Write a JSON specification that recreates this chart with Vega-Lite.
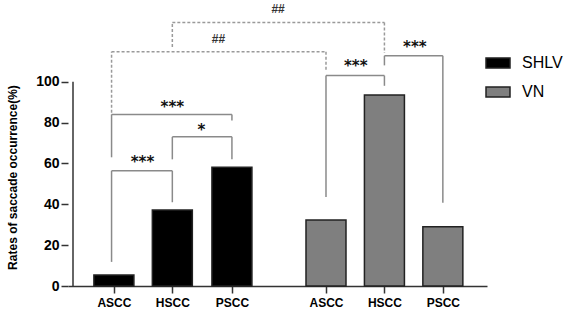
{
  "$schema": "https://vega.github.io/schema/vega-lite/v6.json",
  "width": 419,
  "height": 286,
  "autosize": "none",
  "padding": {"left": 68, "top": 0, "right": 80, "bottom": 26},
  "background": "white",
  "config": {"view": {"stroke": null}, "font": "Liberation Sans"},
  "datasets": {
    "bars": [
      {"group": "SHLV", "cond": "ASCC", "x": 1, "value": 5.4},
      {"group": "SHLV", "cond": "HSCC", "x": 2, "value": 37.2},
      {"group": "SHLV", "cond": "PSCC", "x": 3.02, "value": 58.1},
      {"group": "VN", "cond": "ASCC", "x": 4.63, "value": 32.3},
      {"group": "VN", "cond": "HSCC", "x": 5.63, "value": 93.5},
      {"group": "VN", "cond": "PSCC", "x": 6.63, "value": 29.0}
    ],
    "yaxis": [{"x": 0.3, "y": 0, "y2": 100}],
    "solid": [
      {"x": 0.96, "x2": 0.96, "y": 11.8, "y2": 56.4},
      {"x": 0.96, "x2": 2, "y": 56.4, "y2": 56.4},
      {"x": 2, "x2": 2, "y": 56.4, "y2": 41},
      {"x": 2, "x2": 2, "y": 62, "y2": 73},
      {"x": 2, "x2": 3.02, "y": 73, "y2": 73},
      {"x": 3.02, "x2": 3.02, "y": 73, "y2": 62},
      {"x": 0.96, "x2": 0.96, "y": 63, "y2": 84},
      {"x": 0.96, "x2": 3.02, "y": 84, "y2": 84},
      {"x": 3.02, "x2": 3.02, "y": 84, "y2": 81},
      {"x": 4.63, "x2": 4.63, "y": 43.6, "y2": 103},
      {"x": 4.63, "x2": 5.63, "y": 103, "y2": 103},
      {"x": 5.63, "x2": 5.63, "y": 103, "y2": 98},
      {"x": 5.63, "x2": 5.63, "y": 108, "y2": 112.7},
      {"x": 5.63, "x2": 6.63, "y": 112.7, "y2": 112.7},
      {"x": 6.63, "x2": 6.63, "y": 112.7, "y2": 40.7}
    ],
    "dashed": [
      {"x": 0.96, "x2": 0.96, "y": 84.8, "y2": 114.7},
      {"x": 0.96, "x2": 4.63, "y": 114.7, "y2": 114.7},
      {"x": 4.63, "x2": 4.63, "y": 114.7, "y2": 105},
      {"x": 2, "x2": 2, "y": 117, "y2": 129},
      {"x": 2, "x2": 5.63, "y": 129, "y2": 129},
      {"x": 5.63, "x2": 5.63, "y": 129, "y2": 114}
    ],
    "stars": [
      {"x": 1.49, "y": 62, "t": "***"},
      {"x": 2.5, "y": 78, "t": "*"},
      {"x": 2.0, "y": 89, "t": "***"},
      {"x": 5.14, "y": 109, "t": "***"},
      {"x": 6.15, "y": 118.6, "t": "***"}
    ],
    "hashes": [
      {"x": 2.79, "y": 121, "t": "##"},
      {"x": 3.81, "y": 135.6, "t": "##"}
    ]
  },
  "layer": [
    {
      "data": {"name": "bars"},
      "mark": {"type": "bar", "size": 40, "stroke": "#222222", "strokeWidth": 1.5},
      "encoding": {
        "x": {
          "field": "x", "type": "quantitative",
          "scale": {"domain": [0.3, 7.3], "nice": false, "zero": false},
          "axis": {
            "title": null, "grid": false,
            "values": [1, 2, 3.02, 4.63, 5.63, 6.63],
            "labelExpr": "datum.value < 1.5 ? 'ASCC' : datum.value < 2.5 ? 'HSCC' : datum.value < 4 ? 'PSCC' : datum.value < 5 ? 'ASCC' : datum.value < 6 ? 'HSCC' : 'PSCC'",
            "domainColor": "#333333", "domainWidth": 1.5,
            "tickColor": "#333333", "tickWidth": 1.5, "tickSize": 7,
            "labelFont": "Liberation Sans", "labelFontWeight": "bold", "labelFontSize": 12,
            "labelColor": "#000000", "labelPadding": 4, "labelFlush": false, "labelOverlap": false
          }
        },
        "y": {
          "field": "value", "type": "quantitative",
          "scale": {"domain": [0, 140], "nice": false},
          "axis": {
            "title": "Rates of saccade occurrence(%)",
            "grid": false, "domain": false,
            "values": [0, 20, 40, 60, 80, 100],
            "tickColor": "#333333", "tickWidth": 1.5, "tickSize": 7,
            "labelFont": "Liberation Sans", "labelFontWeight": "bold", "labelFontSize": 14,
            "labelColor": "#000000", "labelPadding": 2,
            "titleFont": "Liberation Sans", "titleFontWeight": "bold", "titleFontSize": 12,
            "titleColor": "#000000", "titleX": -56, "titleY": 177, "titleAngle": -90,
            "titleAlign": "center", "titleBaseline": "middle"
          }
        },
        "color": {
          "field": "group", "type": "nominal",
          "scale": {"domain": ["SHLV", "VN"], "range": ["#000000", "#7f7f7f"]},
          "legend": {
            "title": null, "orient": "none", "legendX": 417, "legendY": 50,
            "direction": "vertical", "padding": 0,
            "symbolType": "M-1,-0.42H1V0.42H-1Z", "symbolSize": 576,
            "symbolStrokeColor": "#222222", "symbolStrokeWidth": 1.5, "symbolOpacity": 1,
            "labelFont": "Liberation Sans", "labelFontSize": 16, "labelColor": "#000000",
            "labelOffset": 11, "rowPadding": 7
          }
        }
      }
    },
    {
      "data": {"name": "yaxis"},
      "mark": {"type": "rule", "color": "#333333", "strokeWidth": 1.5},
      "encoding": {
        "x": {"field": "x", "type": "quantitative"},
        "y": {"field": "y", "type": "quantitative"},
        "y2": {"field": "y2"}
      }
    },
    {
      "data": {"name": "solid"},
      "mark": {"type": "rule", "color": "#8a8a8a", "strokeWidth": 1.5},
      "encoding": {
        "x": {"field": "x", "type": "quantitative"},
        "x2": {"field": "x2"},
        "y": {"field": "y", "type": "quantitative"},
        "y2": {"field": "y2"}
      }
    },
    {
      "data": {"name": "dashed"},
      "mark": {"type": "rule", "color": "#9a9a9a", "strokeWidth": 1.5, "strokeDash": [3, 2]},
      "encoding": {
        "x": {"field": "x", "type": "quantitative"},
        "x2": {"field": "x2"},
        "y": {"field": "y", "type": "quantitative"},
        "y2": {"field": "y2"}
      }
    },
    {
      "data": {"name": "stars"},
      "mark": {"type": "text", "font": "DejaVu Sans", "fontWeight": "bold", "fontSize": 15, "baseline": "alphabetic", "align": "center", "dy": 8, "color": "#111111"},
      "encoding": {
        "x": {"field": "x", "type": "quantitative"},
        "y": {"field": "y", "type": "quantitative"},
        "text": {"field": "t"}
      }
    },
    {
      "data": {"name": "hashes"},
      "mark": {"type": "text", "font": "Liberation Sans", "fontWeight": "bold", "fontSize": 12, "baseline": "middle", "align": "center", "color": "#333333"},
      "encoding": {
        "x": {"field": "x", "type": "quantitative"},
        "y": {"field": "y", "type": "quantitative"},
        "text": {"field": "t"}
      }
    }
  ]
}
